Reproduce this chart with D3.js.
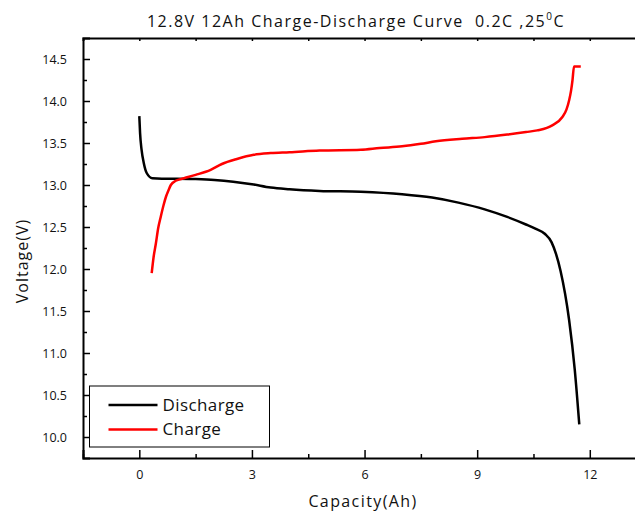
<!DOCTYPE html>
<html>
<head>
<meta charset="utf-8">
<script src="https://cdn.jsdelivr.net/npm/d3@7"></script>
<style>
  html, body { margin: 0; padding: 0; background: #fff; }
  svg { display: block; font-family: "Open Sans", "Noto Sans", sans-serif; }
</style>
</head>
<body>
<div id="chart"></div>
<script>
// discharge curve (capacity Ah, voltage V)
const dischargeCap = [0, 0.02, 0.06, 0.12, 0.2, 0.35, 0.6, 1.0, 1.5, 2.0, 2.5, 3.0, 3.5, 4.0, 4.8, 5.9, 7.0, 7.8, 8.5, 9.2, 9.8, 10.3, 10.55, 10.8, 10.98, 11.1, 11.22, 11.45, 11.6, 11.72];
const dischargeV = [13.82, 13.62, 13.42, 13.26, 13.14, 13.08, 13.075, 13.075, 13.07, 13.06, 13.04, 13.01, 12.97, 12.95, 12.93, 12.92, 12.89, 12.85, 12.79, 12.71, 12.62, 12.53, 12.48, 12.42, 12.32, 12.18, 11.98, 11.39, 10.8, 10.15];

// charge curve
const chargeCap = [0.33, 0.38, 0.44, 0.5, 0.57, 0.64, 0.71, 0.78, 0.84, 0.97, 1.19, 1.5, 1.9, 2.2, 2.6, 3.05, 3.5, 4.0, 4.8, 5.9, 6.4, 7.0, 7.5, 7.9, 8.6, 9.2, 9.8, 10.3, 10.6, 11.0, 11.27, 11.38, 11.45, 11.5, 11.54, 11.58, 11.65, 11.76];
const chargeV = [11.95, 12.14, 12.30, 12.48, 12.62, 12.75, 12.86, 12.94, 13.0, 13.05, 13.08, 13.12, 13.18, 13.25, 13.31, 13.36, 13.38, 13.39, 13.41, 13.42, 13.44, 13.46, 13.49, 13.52, 13.55, 13.57, 13.60, 13.63, 13.65, 13.71, 13.81, 13.90, 14.01, 14.12, 14.25, 14.41, 14.41, 14.41];

const xTicks = [0, 3, 6, 9, 12];
const yTicks = [10.0, 10.5, 11.0, 11.5, 12.0, 12.5, 13.0, 13.5, 14.0, 14.5];
const seriesNames = ['Discharge', 'Charge'];
const seriesColors = ['#000000', '#ff0000'];

const width = 635, height = 512;
const margin = {top: 38, left: 83, bottom: 54};

const svg = d3.select('#chart').append('svg')
    .attr('width', width)
    .attr('height', height);

// plot area runs past the right edge of the picture, so no right axis is seen
const x = d3.scaleLinear().domain([-1.5, 13.5]).range([margin.left, margin.left + 15 * 37.54]);
const y = d3.scaleLinear().domain([9.75, 14.75]).range([height - margin.bottom, margin.top]);

// title
const title = svg.append('text')
    .attr('x', 356)
    .attr('y', 27)
    .attr('text-anchor', 'middle')
    .attr('font-size', 16)
    .attr('letter-spacing', 1.5)
    .style('white-space', 'pre')
    .attr('fill', '#111');
title.append('tspan').text('12.8V 12Ah Charge-Discharge Curve  0.2C ,25');
title.append('tspan').attr('font-size', 10).attr('dy', -7).text('0');
title.append('tspan').attr('dy', 7).text('C');

// bottom axis
svg.append('g')
    .attr('transform', `translate(0,${y(9.75)})`)
    .call(d3.axisBottom(x).tickValues(xTicks).tickSize(-8).tickPadding(12).tickFormat(d3.format('d')));
svg.append('g')
    .attr('transform', `translate(0,${y(9.75)})`)
    .call(d3.axisBottom(x).tickValues(d3.range(-1.5, 13.6, 1.5).filter(v => v % 3 !== 0)).tickSize(-4).tickFormat(''))
    .call(g => g.select('.domain').remove());

// top axis
svg.append('g')
    .attr('transform', `translate(0,${y(14.75)})`)
    .call(d3.axisTop(x).tickValues(d3.range(0, 13.6, 1.5)).tickSize(-3).tickFormat(''));

// left axis
svg.append('g')
    .attr('transform', `translate(${x(-1.5)},0)`)
    .call(d3.axisLeft(y).tickValues(yTicks).tickSize(-7).tickPadding(16).tickFormat(d3.format('.1f')));
svg.append('g')
    .attr('transform', `translate(${x(-1.5)},0)`)
    .call(d3.axisLeft(y).tickValues(d3.range(10.25, 14.6, 0.5)).tickSize(-4).tickFormat(''))
    .call(g => g.select('.domain').remove());

svg.selectAll('.domain').attr('stroke', '#000').attr('stroke-width', 2);
svg.selectAll('.tick line').attr('stroke', '#000').attr('stroke-width', 1.5);
svg.selectAll('.tick text').attr('font-size', 12.5).attr('fill', '#111')
    .attr('font-family', '"Open Sans", "Noto Sans", sans-serif');

// axis titles
svg.append('text')
    .attr('x', 363)
    .attr('y', 507)
    .attr('text-anchor', 'middle')
    .attr('font-size', 16)
    .attr('letter-spacing', 1.4)
    .attr('fill', '#111')
    .text('Capacity(Ah)');

svg.append('text')
    .attr('transform', `translate(28,${261}) rotate(-90)`)
    .attr('text-anchor', 'middle')
    .attr('font-size', 16)
    .attr('letter-spacing', 1.0)
    .attr('fill', '#111')
    .text('Voltage(V)');

// curves
const line = d3.line()
    .x(d => x(d[0]))
    .y(d => y(d[1]))
    .curve(d3.curveMonotoneX);

const discharge = dischargeCap.map((c, i) => [c, dischargeV[i]]);
const charge = chargeCap.map((c, i) => [c, chargeV[i]]);

svg.append('path')
    .datum(discharge)
    .attr('fill', 'none')
    .attr('stroke', seriesColors[0])
    .attr('stroke-width', 2.5)
    .attr('d', line);

svg.append('path')
    .datum(charge)
    .attr('fill', 'none')
    .attr('stroke', seriesColors[1])
    .attr('stroke-width', 2.5)
    .attr('d', line);

// legend
const legend = svg.append('g').attr('transform', 'translate(89.5,386)');
legend.append('rect')
    .attr('width', 180)
    .attr('height', 61)
    .attr('fill', '#fff')
    .attr('stroke', '#000')
    .attr('stroke-width', 1);

seriesNames.forEach((name, i) => {
    const row = legend.append('g').attr('transform', `translate(0,${19 + i * 24.5})`);
    row.append('line')
        .attr('x1', 19).attr('x2', 68)
        .attr('stroke', seriesColors[i])
        .attr('stroke-width', 2.5);
    row.append('text')
        .attr('x', 73)
        .attr('dy', '0.35em')
        .attr('font-size', 17)
        .attr('letter-spacing', 0.4)
        .attr('fill', '#111')
        .text(name);
});
</script>
</body>
</html>
